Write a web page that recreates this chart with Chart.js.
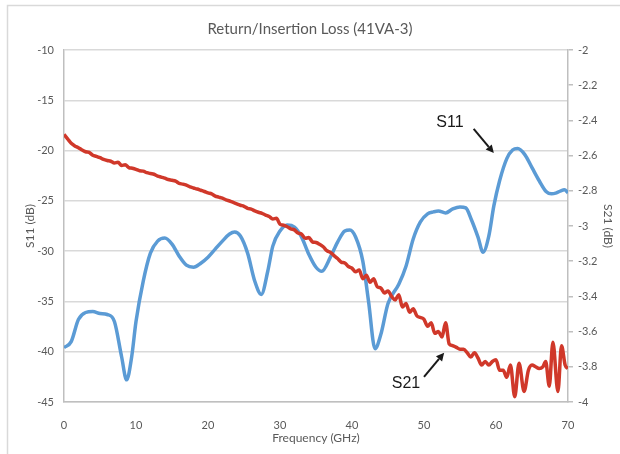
<!DOCTYPE html>
<html>
<head>
<meta charset="utf-8">
<title>Return/Insertion Loss (41VA-3)</title>
<script src="https://cdn.jsdelivr.net/npm/chart.js@4/dist/chart.umd.min.js"></script>
<style>
  body { margin: 0; background: #fff; }
  canvas { display: block; }
</style>
</head>
<body>
<canvas id="loss" width="620" height="454"></canvas>
<script>
// S11 (return loss, left axis)
const freqS11 = [0, 1, 2, 3, 4, 5, 6, 7, 8, 8.7, 9.4, 10, 11, 12, 13, 14, 15, 16, 17, 18, 19, 20, 21, 22, 23, 23.7,
    24.5, 25.5, 26.5, 27.4, 28.3, 29, 30, 31, 32, 33, 34, 35, 35.8, 37, 38, 39, 39.7, 40.5, 41.5, 42.3, 43.2, 44,
    45, 46.5, 47.5, 48.5, 49.5, 50.5, 51.3, 52, 53, 54, 55, 55.8, 56.6, 57.5, 58.2, 59, 59.7, 60.5, 61.5, 62.3,
    63, 64, 65, 66, 67, 67.7, 68.4, 69, 69.5, 70];
const s11 = [-39.6, -39.0, -36.8, -36.1, -36.0, -36.2, -36.3, -37.0, -40.5, -42.8, -40.5, -37.0, -33.0, -30.2, -29.0,
    -28.7, -29.3, -30.5, -31.4, -31.6, -31.2, -30.6, -29.8, -29.0, -28.3, -28.1, -28.5, -30.2, -33.0, -34.3, -32.0,
    -29.5, -28.0, -27.4, -27.6, -28.6, -30.3, -31.6, -32.0, -30.6, -29.1, -28.0, -27.9, -28.6, -31.0, -35.0, -39.7,
    -38.3, -35.2, -33.3, -31.5, -28.8, -27.1, -26.3, -26.1, -26.0, -26.2, -25.8, -25.6, -25.7, -26.9, -28.6, -30.1,
    -28.5, -25.5, -23.0, -20.8, -19.95, -19.8, -20.4, -21.7, -23.0, -24.1, -24.3, -24.2, -24.0, -23.9, -24.2];

// S21 (insertion loss, right axis)
const freqS21 = [0, 0.5, 1, 1.5, 2, 2.5, 3, 3.5, 4, 4.5, 5, 5.5, 6, 6.5, 7, 7.5, 8, 8.5, 9, 9.5, 10, 10.5, 11, 11.5,
    12, 12.5, 13, 13.5, 14, 14.5, 15, 15.5, 16, 16.5, 17, 17.5, 18, 18.5, 19, 19.5, 20, 20.5, 21, 21.5, 22, 22.5,
    23, 23.5, 24, 24.5, 25, 25.5, 26, 26.5, 27, 27.5, 28, 28.5, 29, 29.5, 30, 30.5, 31, 31.5, 32, 32.5, 33, 33.5,
    34, 34.5, 35, 35.5, 36, 36.5, 37, 37.5, 38, 38.5, 39, 39.5, 40, 40.5, 41, 41.5, 42, 42.5, 43, 43.5, 44, 44.5,
    45, 45.5, 46, 46.5, 47, 47.5, 48, 48.5, 49, 49.5, 50, 50.5, 51, 51.5, 52, 52.5, 53, 53.5, 54, 54.5, 55, 55.5,
    56, 56.5, 57, 57.5, 58, 58.5, 59, 59.5, 60, 60.5, 61, 61.5, 62, 62.6, 63.2, 63.9, 64.5, 65, 65.5, 66, 66.5,
    66.9, 67.4, 67.9, 68.6, 69.1, 69.6, 70];
const s21 = [-2.48, -2.505, -2.53, -2.545, -2.555, -2.568, -2.578, -2.582, -2.598, -2.604, -2.612, -2.622, -2.628,
    -2.632, -2.642, -2.638, -2.656, -2.652, -2.668, -2.672, -2.678, -2.686, -2.688, -2.697, -2.702, -2.706, -2.716,
    -2.722, -2.728, -2.736, -2.74, -2.745, -2.758, -2.762, -2.768, -2.778, -2.784, -2.79, -2.797, -2.804, -2.812,
    -2.818, -2.83, -2.836, -2.842, -2.852, -2.858, -2.866, -2.874, -2.882, -2.888, -2.9, -2.904, -2.914, -2.922,
    -2.928, -2.938, -2.946, -2.96, -2.956, -2.99, -2.996, -3.004, -3.016, -3.022, -3.04, -3.046, -3.07, -3.066,
    -3.09, -3.094, -3.104, -3.118, -3.14, -3.15, -3.168, -3.185, -3.205, -3.21, -3.23, -3.24, -3.26, -3.25, -3.3,
    -3.28, -3.32, -3.3, -3.345, -3.352, -3.38, -3.37, -3.4, -3.42, -3.39, -3.46, -3.44, -3.49, -3.47, -3.51, -3.52,
    -3.53, -3.57, -3.55, -3.61, -3.6, -3.63, -3.55, -3.67, -3.68, -3.69, -3.70, -3.70, -3.72, -3.745, -3.72, -3.75,
    -3.79, -3.77, -3.79, -3.77, -3.76, -3.82, -3.82, -3.86, -3.79, -3.97, -3.78, -3.94, -3.82, -3.79, -3.80, -3.81,
    -3.80, -3.77, -3.91, -3.66, -3.94, -3.68, -3.79, -3.81];

// callout labels: [text, label x, label y, arrow from x, y, arrow to x, y] in GHz / S11 dB
const callouts = [
    ['S11', 53.6, -17.2, 56.9, -17.85, 59.7, -20.25],
    ['S21', 47.5, -43.2, 50.0, -42.5, 52.8, -40.1]
];

const FONT = 'Lato, "Open Sans", sans-serif';
const GREY = '#595959';

const framePlugin = {
    id: 'frame',
    beforeDraw(chart) {
        const ctx = chart.ctx;
        ctx.save();
        ctx.fillStyle = '#fff';
        ctx.fillRect(0, 0, chart.width, chart.height);
        ctx.strokeStyle = '#d9d9d9';
        ctx.lineWidth = 1.5;
        ctx.beginPath();
        ctx.moveTo(7.5, chart.height + 2);
        ctx.lineTo(7.5, 5.5);
        ctx.lineTo(chart.width + 2, 5.5);
        ctx.stroke();
        ctx.restore();
    }
};

const calloutPlugin = {
    id: 'callouts',
    afterDatasetsDraw(chart) {
        const ctx = chart.ctx;
        const x = chart.scales.x, y = chart.scales.y;
        ctx.save();
        callouts.forEach(c => {
            ctx.font = '16px "Liberation Sans", Arial, sans-serif';
            ctx.fillStyle = '#1a1a1a';
            ctx.textAlign = 'center';
            ctx.textBaseline = 'middle';
            ctx.fillText(c[0], x.getPixelForValue(c[1]), y.getPixelForValue(c[2]));
            const x0 = x.getPixelForValue(c[3]), y0 = y.getPixelForValue(c[4]);
            const x1 = x.getPixelForValue(c[5]), y1 = y.getPixelForValue(c[6]);
            const a = Math.atan2(y1 - y0, x1 - x0);
            const bx = x1 - 8 * Math.cos(a), by = y1 - 8 * Math.sin(a);
            ctx.strokeStyle = '#1a1a1a';
            ctx.lineWidth = 2;
            ctx.beginPath();
            ctx.moveTo(x0, y0);
            ctx.lineTo(bx, by);
            ctx.stroke();
            ctx.fillStyle = '#1a1a1a';
            ctx.beginPath();
            ctx.moveTo(x1, y1);
            ctx.lineTo(bx + 4 * Math.sin(a), by - 4 * Math.cos(a));
            ctx.lineTo(bx - 4 * Math.sin(a), by + 4 * Math.cos(a));
            ctx.closePath();
            ctx.fill();
        });
        ctx.restore();
    }
};

let ctx = document.getElementById('loss').getContext('2d');
let chart = new Chart(ctx, {
    type: 'line',
    data: {
        datasets: [{
            label: 'S21',
            data: freqS21.map((f, i) => ({x: f, y: s21[i]})),
            yAxisID: 'y2',
            borderColor: '#d0382a',
            backgroundColor: '#d0382a',
            borderWidth: 3.5,
            pointRadius: 0,
            cubicInterpolationMode: 'monotone'
        }, {
            label: 'S11',
            data: freqS11.map((f, i) => ({x: f, y: s11[i]})),
            yAxisID: 'y',
            borderColor: '#5b9bd5',
            backgroundColor: '#5b9bd5',
            borderWidth: 3.5,
            pointRadius: 0,
            cubicInterpolationMode: 'monotone'
        }]
    },
    options: {
        responsive: false,
        animation: false,
        layout: {padding: 0},
        plugins: {
            legend: {display: false},
            tooltip: {enabled: false},
            title: {
                display: true,
                text: 'Return/Insertion Loss (41VA-3)',
                color: GREY,
                font: {family: FONT, size: 15, weight: 'normal'},
                padding: {top: 20, bottom: 12}
            }
        },
        scales: {
            x: {
                type: 'linear',
                min: 0,
                max: 70,
                ticks: {stepSize: 10, color: GREY, font: {family: FONT, size: 11}, padding: 9, maxRotation: 0},
                grid: {display: false},
                border: {display: true, color: '#bfbfbf', width: 1.5},
                title: {display: true, text: 'Frequency (GHz)', color: GREY,
                    font: {family: FONT, size: 12}, padding: {top: 0, bottom: 8.8}},
                afterFit(scale) { scale.height = 52; }
            },
            y: {
                position: 'left',
                min: -45,
                max: -10,
                ticks: {stepSize: 5, color: GREY, font: {family: FONT, size: 11}, padding: 10},
                grid: {color: '#d9d9d9', lineWidth: 1.5, drawTicks: false},
                border: {display: true, color: '#bfbfbf', width: 1.5},
                title: {display: true, text: 'S11 (dB)', color: GREY,
                    font: {family: FONT, size: 12}, padding: {top: 22.8, bottom: 0}},
                afterFit(scale) { scale.width = 64; }
            },
            y2: {
                position: 'right',
                min: -4,
                max: -2,
                ticks: {stepSize: 0.2, color: GREY, font: {family: FONT, size: 11}, padding: 5,
                    callback: v => String(Number(v.toFixed(1)))},
                grid: {drawOnChartArea: false, color: '#bfbfbf', lineWidth: 1.5, tickLength: 5},
                border: {display: true, color: '#bfbfbf', width: 1.5},
                title: {display: true, text: 'S21 (dB)', color: GREY,
                    font: {family: FONT, size: 12}, padding: {top: 4.8, bottom: 0}},
                afterFit(scale) { scale.width = 52; }
            }
        }
    },
    plugins: [framePlugin, calloutPlugin]
});
</script>
</body>
</html>
